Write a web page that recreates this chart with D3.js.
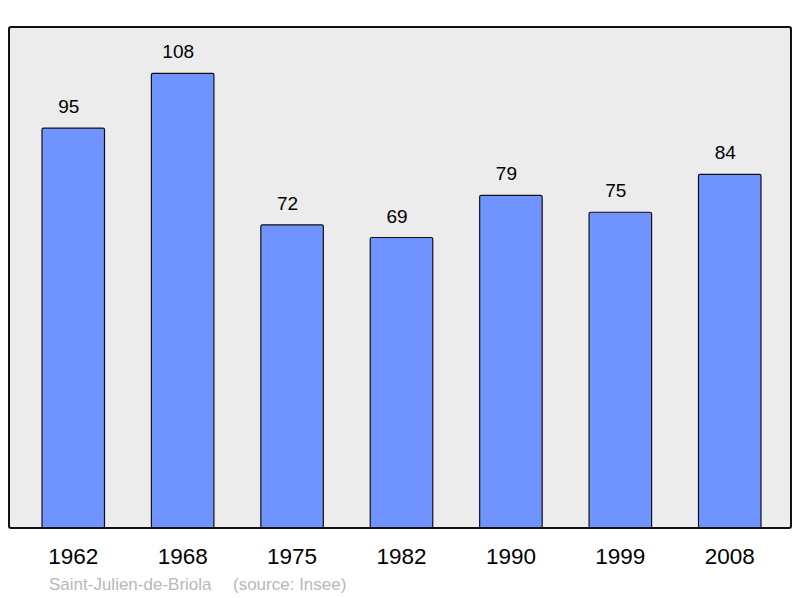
<!DOCTYPE html>
<html>
<head>
<meta charset="utf-8">
<script src="https://cdn.jsdelivr.net/npm/d3@7"></script>
<style>
  body { margin: 0; background: #fff; }
  text { font-family: "Liberation Sans", Arial, sans-serif; }
</style>
</head>
<body>
<div id="chart"></div>
<script>
// population data
const years = ["1962", "1968", "1975", "1982", "1990", "1999", "2008"];
const population = [95, 108, 72, 69, 79, 75, 84];
const placeName = "Saint-Julien-de-Briola";
const sourceNote = "(source: Insee)";

const svgWidth = 800;
const svgHeight = 598;

// plot frame
const frame = { left: 9, top: 27, right: 791, bottom: 528 };

var svg = d3.select("#chart")
    .append("svg")
    .attr("width", svgWidth)
    .attr("height", svgHeight);

var x = d3.scaleBand()
    .domain(years)
    .range([frame.left, 794])
    .paddingInner(0.4287)
    .paddingOuter(0.3016);

var y = d3.scaleLinear()
    .domain([0, 119])
    .range([frame.bottom, frame.top]);

// background panel
svg.append("rect")
    .attr("x", frame.left)
    .attr("y", frame.top)
    .attr("width", frame.right - frame.left)
    .attr("height", frame.bottom - frame.top)
    .attr("rx", 2)
    .attr("fill", "#ececec")
    .attr("stroke", "none");

// bars
var bars = svg.selectAll(".bar")
    .data(population)
    .enter()
    .append("g");

bars.append("rect")
    .attr("x", (d, i) => x(years[i]))
    .attr("y", d => y(d))
    .attr("width", x.bandwidth())
    .attr("height", d => y(0) - y(d))
    .attr("rx", 1.5)
    .attr("fill", "#7094ff")
    .attr("stroke", "#111")
    .attr("stroke-width", 1.2);

// value labels (sit a little left of bar centre, as in the original)
bars.append("text")
    .attr("x", (d, i) => x(years[i]) + x.bandwidth() / 2 - 4.5)
    .attr("y", d => y(d) - 15)
    .attr("text-anchor", "middle")
    .attr("font-size", 19)
    .attr("fill", "#000")
    .text(d => d);

// panel border drawn over bars
svg.append("rect")
    .attr("x", frame.left)
    .attr("y", frame.top)
    .attr("width", frame.right - frame.left)
    .attr("height", frame.bottom - frame.top)
    .attr("rx", 2)
    .attr("fill", "none")
    .attr("stroke", "#111")
    .attr("stroke-width", 2);

// x axis labels
var xAxis = d3.axisBottom(x).tickSize(0).tickPadding(0);
var axisG = svg.append("g")
    .attr("transform", `translate(0, ${frame.bottom})`)
    .call(xAxis);
axisG.select(".domain").remove();
axisG.selectAll("text")
    .attr("font-family", "Liberation Sans, Arial, sans-serif")
    .attr("font-size", 22.5)
    .attr("fill", "#000")
    .attr("dy", null)
    .attr("y", 36);

// footer
svg.append("text")
    .attr("x", 49)
    .attr("y", 590)
    .attr("font-size", 17)
    .attr("fill", "#b8b8b8")
    .text(placeName);

svg.append("text")
    .attr("x", 233)
    .attr("y", 590)
    .attr("font-size", 17)
    .attr("fill", "#b8b8b8")
    .text(sourceNote);
</script>
</body>
</html>
